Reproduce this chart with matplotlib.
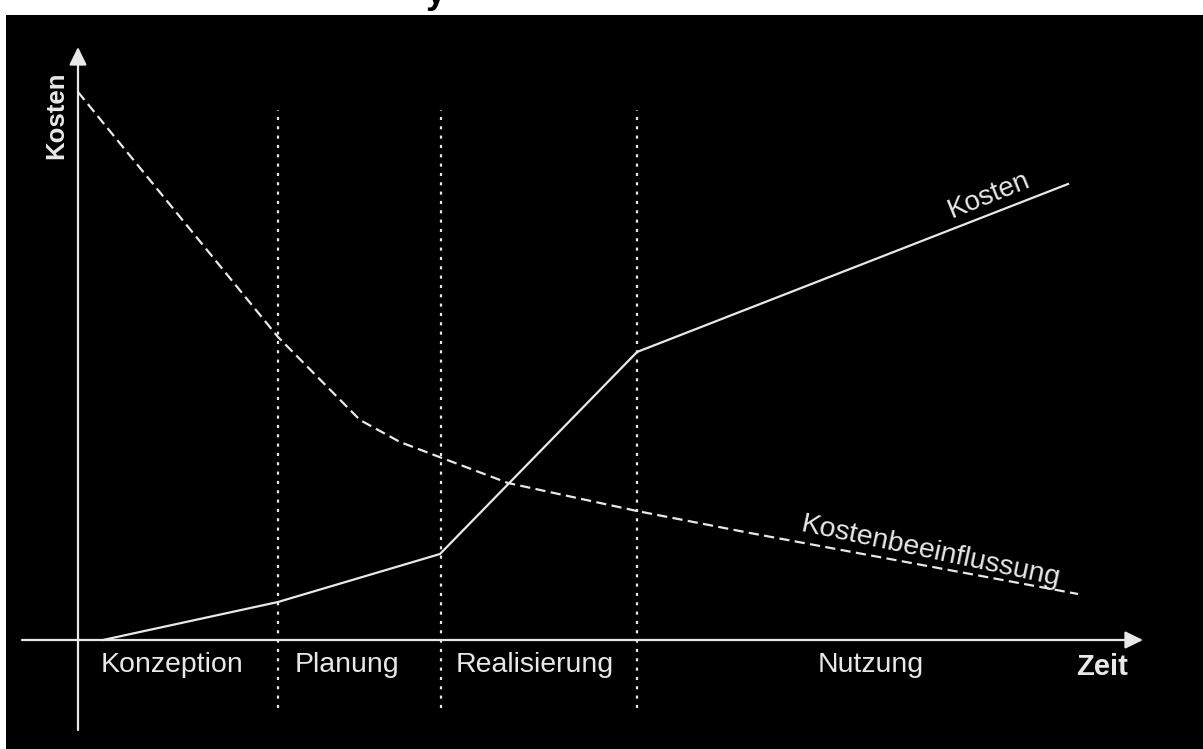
import matplotlib
matplotlib.use('Agg')
import matplotlib.pyplot as plt
from matplotlib.patches import Rectangle

plt.rcParams['font.family'] = ['Liberation Sans', 'DejaVu Sans']

# chart units: time from the origin to the right, cost from the time axis upwards
phase_names = ['Konzeption', 'Planung', 'Realisierung', 'Nutzung']
phase_bounds = [200, 363, 559]

kosten_t = [25, 200, 362, 559, 990]
kosten_v = [0, 38, 86, 288, 456]

einfluss_t = [0, 200, 282, 322, 364, 430, 559, 672, 1000]
einfluss_v = [548, 303, 220, 198, 182, 157, 129, 107, 46]

fg = '#e8e8e8'

fig = plt.figure(figsize=(12.03, 7.49), dpi=100, facecolor='white')
fig.patches.append(Rectangle((6 / 1203, 0), 1, 1 - 15 / 749, transform=fig.transFigure,
                             facecolor='black', edgecolor='none', zorder=-5))
# top of a title that is cut off by the picture's edge
fig.text(436 / 1203, 1 - 3 / 749, 'y', color='black', fontsize=26, fontweight='bold',
         ha='center', va='baseline')

ax = fig.add_axes([0, 0, 1, 1])
ax.set_zorder(1)
ax.set_facecolor('none')
ax.set_xlim(-78, 1125)
ax.set_ylim(-109, 640)
ax.axis('off')

# axes with arrows
arrow = dict(arrowstyle='-|>,head_length=0.45,head_width=0.22', color=fg, lw=1.6,
             mutation_scale=24, shrinkA=0, shrinkB=0)
ax.annotate('', xy=(1065, 0), xytext=(-56, 0), arrowprops=arrow)
ax.annotate('', xy=(0, 593), xytext=(0, -90), arrowprops=arrow)

# phase boundaries
for b in phase_bounds:
    ax.plot([b, b], [-68, 530], color=fg, lw=1.6, linestyle=(0, (1.4, 2.8)))

ax.plot(kosten_t, kosten_v, color=fg, lw=1.6, solid_joinstyle='miter')
ax.plot(einfluss_t, einfluss_v, color=fg, lw=1.6, linestyle=(0, (4.6, 2.4)))

label_x = [94, 269, 457, 793]
for name, x in zip(phase_names, label_x):
    ax.text(x, -25, name, color=fg, fontsize=20.5, ha='center', va='center')

ax.text(1024, -27, 'Zeit', color=fg, fontsize=21, fontweight='bold', ha='center', va='center')
ax.text(-22, 525, 'Kosten', color=fg, fontsize=18.5, fontweight='bold', rotation=90,
        ha='center', va='center')
ax.text(911, 445, 'Kosten', color=fg, fontsize=20, rotation=22, rotation_mode='anchor',
        ha='center', va='center')
ax.text(853, 88, 'Kostenbeeinflussung', color=fg, fontsize=20.5, rotation=-12,
        rotation_mode='anchor', ha='center', va='center')

fig.savefig('out.png', dpi=100, facecolor='white')
